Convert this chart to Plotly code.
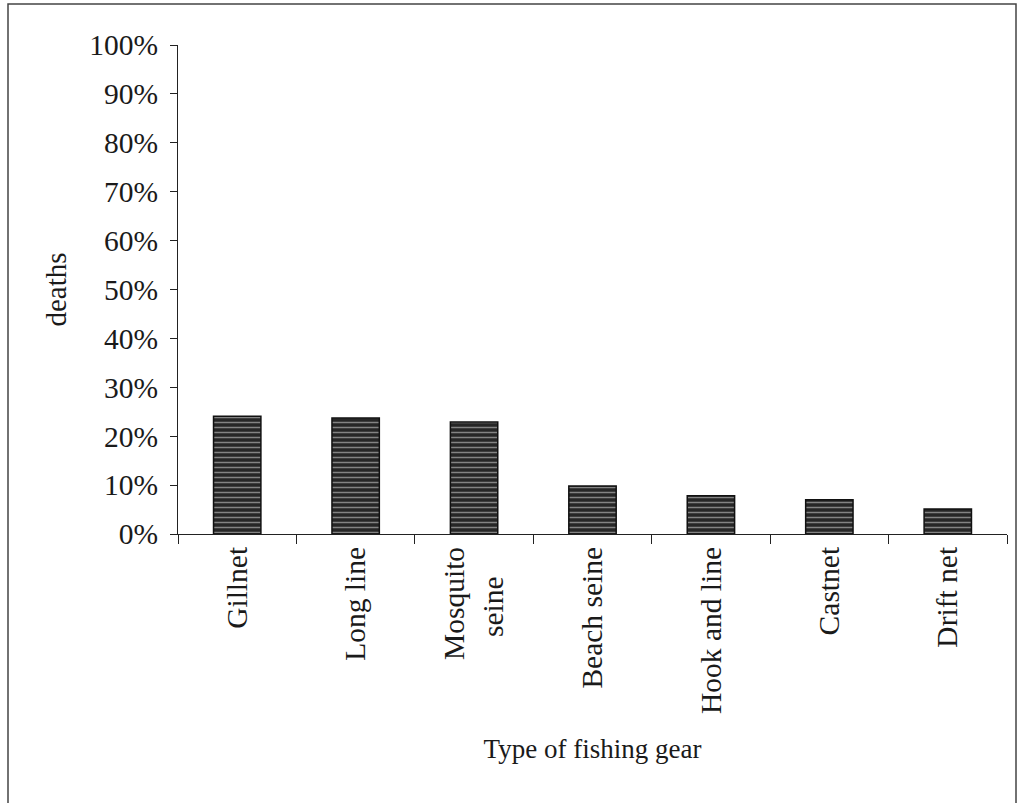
import plotly.graph_objects as go

NBSP = "\u00a0"
categories = ["Gillnet", "Long line", "Mosquito<br>seine" + NBSP * 4, "Beach seine",
              "Hook and line", "Castnet", "Drift net"]
deaths_pct = [24.1, 23.7, 22.9, 9.8, 7.8, 7.0, 5.1]
y_ticks = [0, 10, 20, 30, 40, 50, 60, 70, 80, 90, 100]
y_tick_labels = [f"{v}%" for v in y_ticks]

FONT = "Liberation Serif"

fig = go.Figure()
fig.add_trace(go.Bar(
    x=categories,
    y=deaths_pct,
    width=0.40,
    marker=dict(
        color="#262626",
        line=dict(color="#111111", width=1.5),
        pattern=dict(shape="-", fgcolor="#e0e0e0", bgcolor="#262626",
                     size=5, solidity=0.3),
    ),
    hoverinfo="x+y",
))

fig.update_layout(
    width=1021, height=803,
    paper_bgcolor="white", plot_bgcolor="white",
    margin=dict(l=178, r=14, t=45, b=269, autoexpand=False),
    font=dict(family=FONT, size=29, color="#1a1a1a"),
    showlegend=False,
)

fig.update_xaxes(
    type="category", automargin=False,
    showline=True, linecolor="#222", linewidth=1.2,
    ticks="outside", tickson="boundaries", ticklen=9, tickcolor="#222", tickwidth=1.2,
    tickangle=-90, tickfont=dict(size=29.5, family=FONT),
    showgrid=False,
    title=dict(text="Type of fishing gear", font=dict(size=27, family=FONT), standoff=26),
)
fig.update_yaxes(
    range=[0, 100], automargin=False,
    tickvals=y_ticks, ticktext=y_tick_labels,
    showline=True, linecolor="#222", linewidth=1.2,
    ticks="outside", ticklen=7, tickcolor="#222", tickwidth=1.2,
    ticklabelstandoff=6,
    tickfont=dict(size=29.5, family=FONT),
    showgrid=False, zeroline=False,
    title=dict(text="deaths", font=dict(size=29, family=FONT), standoff=14),
)

# scanned page frame (bottom edge falls outside the page)
fig.add_shape(type="rect", xref="paper", yref="paper",
              x0=-170/829, x1=(1016-178)/829, y0=-(830-534)/489, y1=(534-4)/489,
              line=dict(color="#444", width=1.5), fillcolor="rgba(0,0,0,0)", layer="below")

fig.write_html(
    "out.html",
    config={"displayModeBar": False},
    post_script="document.body.style.margin='0';document.body.style.overflow='hidden';",
)
